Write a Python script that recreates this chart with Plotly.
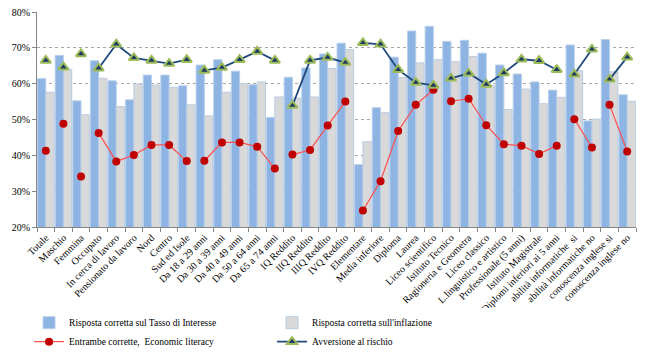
import plotly.graph_objects as go

categories = [
    "Totale", "Maschio", "Femmina", "Occupato", "In cerca di lavoro",
    "Pensionato da lavoro", "Nord", "Centro", "Sud ed Isole",
    "Da 18 a 29 anni", "Da 30 a 39 anni", "Da 40 a 49 anni", "Da 50 a 64 anni",
    "Da 65 a 74 anni", "IQ Reddito", "IIQ Reddito", "IIIQ Reddito", "IVQ Reddito",
    "Elementare", "Media inferiore", "Diploma", "Laurea", "Liceo scientifico",
    "Istituto Tecnico", "Ragioneria e Geometra", "Liceo classico",
    "L.linguistico e artistico", "Professionale (5 anni)", "Istituto Magistrale",
    "Diplomi inferiori ai 5 anni", "abilità informatiche  si",
    "abilità informatiche no", "conoscenza inglese si", "conoscenza inglese no",
]

tasso = [61.4, 67.9, 55.2, 66.4, 60.8, 55.5, 62.4, 62.4, 59.4, 65.2, 66.7, 63.5,
         59.7, 50.6, 61.8, 64.4, 68.3, 71.3, 37.4, 53.3, 67.4, 74.7, 76.0, 71.8,
         72.1, 68.5, 65.2, 62.7, 60.5, 58.2, 70.8, 49.6, 72.3, 56.9]

inflazione = [57.6, 64.0, 51.3, 61.5, 53.6, 59.9, 59.6, 59.0, 54.1, 51.0, 57.6, 60.0,
              60.5, 56.3, 56.0, 56.3, 64.2, 69.5, 43.8, 51.9, 61.7, 65.8, 66.7, 66.1,
              67.6, 59.5, 52.8, 58.5, 54.4, 56.2, 63.6, 50.1, 63.3, 55.1]

literacy = [41.3, 48.8, 34.1, 46.2, 38.3, 40.1, 42.9, 42.9, 38.4, 38.5, 43.6, 43.6,
            42.4, 36.3, 40.2, 41.5, 48.3, 55.0, 24.6, 32.8, 46.8, 54.1, 58.3, 55.1,
            55.8, 48.4, 43.1, 42.7, 40.4, 42.7, 50.1, 42.2, 54.1, 41.1]

avversione = [66.5, 64.6, 68.3, 64.3, 71.0, 67.2, 66.5, 65.6, 66.7, 63.7, 64.5, 66.7,
              69.0, 66.5, 53.9, 66.5, 67.3, 65.9, 71.4, 71.0, 63.9, 60.3, 59.5, 61.5,
              62.9, 59.8, 63.0, 66.8, 66.4, 63.9, 62.6, 69.6, 61.2, 67.4]

# line segments: groups of consecutive categories joined by the lines
groups = [0, 1, 2, 3, 3, 3, 3, 3, 3, 4, 4, 4, 4, 4, 5, 5, 5, 5,
          6, 6, 6, 6, 6, 7, 7, 7, 7, 7, 7, 7, 8, 8, 9, 9]

y_ticks = [20, 30, 40, 50, 60, 70, 80]
y_tick_labels = ["20%", "30%", "40%", "50%", "60%", "70%", "80%"]

FONT = "Liberation Serif"

fig = go.Figure()
fig.add_trace(go.Bar(
    x=categories, y=tasso, name="Risposta corretta sul Tasso di Interesse",
    marker=dict(color="#8DB4E2", line=dict(color="#B9D0EC", width=1)),
    legendrank=1,
))
fig.add_trace(go.Bar(
    x=categories, y=inflazione, name="Risposta corretta sull'inflazione",
    marker=dict(color="#D9D9D9", line=dict(color="#B8CCE4", width=1)),
    legendrank=2,
))


def add_line(values, name, line, marker, rank):
    first = True
    for g in sorted(set(groups)):
        idx = [i for i, gg in enumerate(groups) if gg == g]
        fig.add_trace(go.Scatter(
            x=[categories[i] for i in idx], y=[values[i] for i in idx],
            mode="lines+markers", name=name, legendgroup=name,
            showlegend=first, line=line, marker=marker, legendrank=rank,
            cliponaxis=False,
        ))
        first = False


add_line(literacy, "Entrambe corrette,  Economic literacy",
         dict(color="#FF5050", width=1.2),
         dict(symbol="circle", size=8, color="#C00000", line=dict(color="#C00000", width=0)), 3)
add_line(avversione, "Avversione al rischio",
         dict(color="#1F497D", width=1.8),
         dict(symbol="triangle-up", size=9, color="#1F3864", line=dict(color="#9BBB59", width=2)), 4)

fig.update_layout(
    width=660, height=353,
    margin=dict(l=37, r=24, t=12, b=126, autoexpand=False),
    paper_bgcolor="white", plot_bgcolor="white",
    font=dict(family=FONT, size=10, color="#000000"),
    barmode="group", bargap=0.06, bargroupgap=0.0,
    showlegend=True,
    legend=dict(
        orientation="h", xref="container", yref="container",
        x=0.044, xanchor="left", y=0.127, yanchor="top",
        entrywidth=198, entrywidthmode="pixels",
        font=dict(family=FONT, size=9.5, color="#000000"), traceorder="normal",
        tracegroupgap=0, itemwidth=30,
    ),
    xaxis=dict(
        automargin=False, range=[-0.5, len(categories) - 0.5],
        tickangle=-45, tickfont=dict(family=FONT, size=10),
        showline=True, linecolor="#868686", linewidth=1,
        ticks="outside", tickson="boundaries", ticklen=4, tickcolor="#868686",
        showgrid=False,
    ),
    yaxis=dict(
        automargin=False,
        range=[20, 80], tickmode="array", tickvals=y_ticks, ticktext=y_tick_labels,
        tickfont=dict(family=FONT, size=10),
        showline=True, linecolor="#868686", linewidth=1,
        ticks="outside", ticklen=4, tickcolor="#868686",
        showgrid=True, gridcolor="#A6A6A6", griddash="dot", gridwidth=1,
        zeroline=False,
    ),
)

fig.write_html("out.html")
